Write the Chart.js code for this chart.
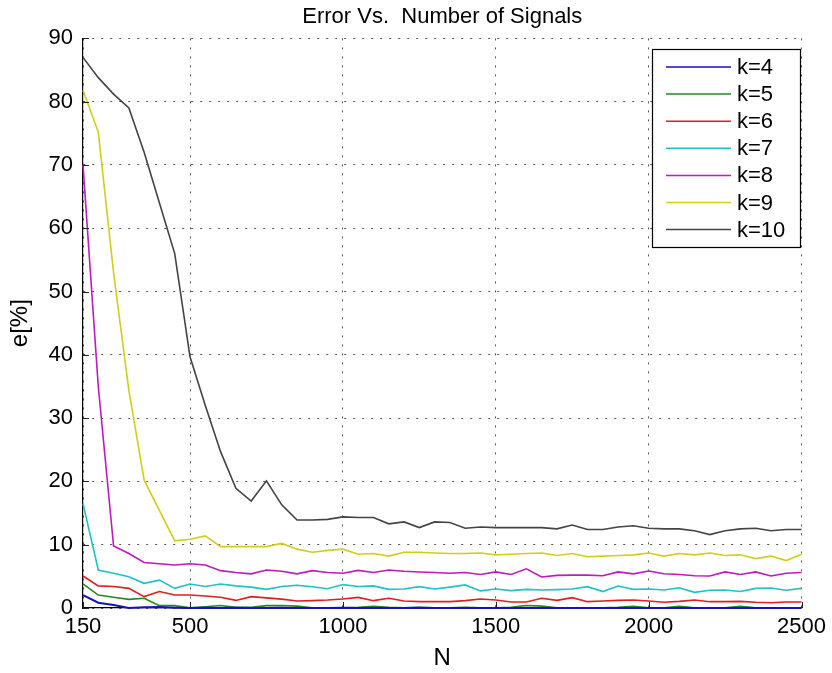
<!DOCTYPE html>
<html>
<head>
<meta charset="utf-8">
<title>Error Vs. Number of Signals</title>
<script src="https://cdn.jsdelivr.net/npm/chart.js@4.4.0/dist/chart.umd.min.js"></script>
<style>
	html, body { margin: 0; padding: 0; background: #fff; }
	#wrap { width: 832px; height: 673px; }
</style>
</head>
<body>
<div id="wrap"><canvas id="errChart" width="832" height="673"></canvas></div>
<script>
// N values (x axis)
const nValues = [150, 200, 250, 300, 350, 400, 450, 500, 550, 600, 650, 700, 750, 800, 850, 900,
	950, 1000, 1050, 1100, 1150, 1200, 1250, 1300, 1350, 1400, 1450, 1500, 1550, 1600, 1650, 1700,
	1750, 1800, 1850, 1900, 1950, 2000, 2050, 2100, 2150, 2200, 2250, 2300, 2350, 2400, 2450, 2500];

// error in percent, one array per k
const k4 = [2.05, 0.84, 0.47, 0.0, 0.1, 0.15, 0.05, 0.0, 0.05, 0.0, 0.05, 0.0, 0.0, 0.05, 0.0, 0.0,
	0.0, 0.05, 0.0, 0.0, 0.0, 0.0, 0.05, 0.0, 0.0, 0.0, 0.0, 0.0, 0.0, 0.0, 0.0, 0.0,
	0.0, 0.0, 0.0, 0.0, 0.0, 0.0, 0.0, 0.0, 0.0, 0.0, 0.0, 0.0, 0.0, 0.0, 0.0, 0.0];
const k5 = [3.8, 2.05, 1.7, 1.37, 1.53, 0.37, 0.37, 0.05, 0.2, 0.4, 0.1, 0.1, 0.37, 0.4, 0.3, 0.05,
	0.05, 0.05, 0.1, 0.25, 0.1, 0.05, 0.1, 0.05, 0.05, 0.1, 0.05, 0.05, 0.1, 0.4, 0.3, 0.05,
	0.05, 0.05, 0.05, 0.1, 0.25, 0.05, 0.05, 0.25, 0.05, 0.05, 0.05, 0.25, 0.05, 0.05, 0.05, 0.05];
const k6 = [5.05, 3.5, 3.4, 3.1, 1.8, 2.6, 2.05, 2.05, 1.9, 1.7, 1.2, 1.8, 1.6, 1.4, 1.1, 1.16,
	1.26, 1.42, 1.68, 1.16, 1.53, 1.1, 1.0, 1.0, 1.0, 1.16, 1.42, 1.26, 0.95, 0.95, 1.53, 1.2,
	1.63, 1.0, 1.1, 1.2, 1.26, 1.1, 0.9, 1.05, 1.26, 1.0, 1.0, 1.05, 0.9, 0.84, 0.95, 0.95];
const k7 = [16.5, 6.0, 5.5, 4.95, 3.9, 4.4, 3.1, 3.8, 3.4, 3.8, 3.5, 3.3, 2.95, 3.4, 3.6, 3.37,
	3.05, 3.7, 3.4, 3.5, 2.95, 3.0, 3.37, 3.0, 3.3, 3.65, 2.7, 3.0, 2.75, 2.95, 2.85, 2.9,
	3.0, 3.37, 2.6, 3.47, 2.95, 3.0, 2.85, 3.2, 2.47, 2.8, 2.85, 2.6, 3.1, 3.16, 2.8, 3.1];
const k8 = [70.0, 35.0, 9.8, 8.6, 7.2, 7.0, 6.8, 7.0, 6.8, 5.9, 5.6, 5.4, 6.0, 5.8, 5.4, 5.9,
	5.6, 5.5, 5.95, 5.6, 6.0, 5.8, 5.7, 5.6, 5.5, 5.6, 5.3, 5.7, 5.3, 6.2, 4.9, 5.15,
	5.2, 5.2, 5.1, 5.7, 5.4, 5.85, 5.4, 5.3, 5.1, 5.05, 5.7, 5.3, 5.7, 5.05, 5.5, 5.6];
const k9 = [81.8, 75.2, 53.0, 34.4, 20.2, 15.4, 10.6, 10.85, 11.4, 9.7, 9.7, 9.7, 9.7, 10.2, 9.3, 8.8,
	9.1, 9.3, 8.5, 8.6, 8.2, 8.8, 8.8, 8.7, 8.6, 8.6, 8.7, 8.4, 8.5, 8.6, 8.7, 8.3,
	8.6, 8.1, 8.2, 8.3, 8.4, 8.7, 8.2, 8.6, 8.4, 8.7, 8.3, 8.4, 7.8, 8.2, 7.5, 8.5];
const k10 = [87.0, 83.8, 81.2, 79.0, 72.0, 64.0, 56.0, 39.7, 32.0, 24.7, 18.9, 16.9, 20.1, 16.3, 13.9, 13.9,
	14.0, 14.4, 14.3, 14.3, 13.3, 13.6, 12.7, 13.6, 13.5, 12.6, 12.8, 12.7, 12.7, 12.7, 12.7, 12.5,
	13.1, 12.4, 12.4, 12.8, 13.0, 12.6, 12.5, 12.5, 12.2, 11.6, 12.2, 12.5, 12.6, 12.2, 12.4, 12.4];

const seriesLabels = ["k=4", "k=5", "k=6", "k=7", "k=8", "k=9", "k=10"];
const xTickValues = [150, 500, 1000, 1500, 2000, 2500];

const seriesColors = ["#1414b4", "#1f8a1f", "#e01e1e", "#1ec3c3", "#c019c0", "#cfcf1a", "#444444"];
const FONT = "'Liberation Sans', Arial, sans-serif";

function toPoints(vals) {
	return vals.map(function (v, i) { return { x: nValues[i], y: v }; });
}

// inward tick marks like the original plot
const innerTicks = {
	id: "innerTicks",
	afterDraw(chart) {
		const ctx = chart.ctx;
		const area = chart.chartArea;
		const xs = chart.scales.x;
		const ys = chart.scales.y;
		ctx.save();
		ctx.strokeStyle = "#222";
		ctx.lineWidth = 1;
		ctx.beginPath();
		xs.ticks.forEach(function (t) {
			const px = Math.round(xs.getPixelForValue(t.value)) + 0.5;
			ctx.moveTo(px, area.bottom);
			ctx.lineTo(px, area.bottom - 6);
		});
		ys.ticks.forEach(function (t) {
			const py = Math.round(ys.getPixelForValue(t.value)) + 0.5;
			ctx.moveTo(area.left, py);
			ctx.lineTo(area.left + 6, py);
		});
		ctx.stroke();
		ctx.restore();
	}
};

// boxed legend in the top right corner of the axes
const boxLegend = {
	id: "boxLegend",
	afterDraw(chart) {
		const ctx = chart.ctx;
		const left = 652, top = 49, width = 148, height = 198;
		const rowH = 27.1;
		ctx.save();
		ctx.fillStyle = "#fff";
		ctx.fillRect(left, top, width, height);
		ctx.strokeStyle = "#000";
		ctx.lineWidth = 1.2;
		ctx.strokeRect(left + 0.5, top + 0.5, width, height);
		ctx.font = "22px " + FONT;
		ctx.textBaseline = "middle";
		ctx.fillStyle = "#000";
		chart.data.datasets.forEach(function (ds, i) {
			const y = top + 18 + i * rowH;
			ctx.strokeStyle = ds.borderColor;
			ctx.lineWidth = 1.5;
			ctx.beginPath();
			ctx.moveTo(666, y);
			ctx.lineTo(731, y);
			ctx.stroke();
			ctx.fillText(ds.label, 737, y + 1);
		});
		ctx.restore();
	}
};

const datasets = [k4, k5, k6, k7, k8, k9, k10].map(function (vals, i) {
	return {
		label: seriesLabels[i],
		data: toPoints(vals),
		borderColor: seriesColors[i],
		backgroundColor: seriesColors[i],
		borderWidth: i === 0 ? 2 : 1.6,
		pointRadius: 0,
		tension: 0,
		fill: false,
		clip: false
	};
});

new Chart(document.getElementById("errChart").getContext("2d"), {
	type: "line",
	data: { datasets: datasets },
	options: {
		responsive: false,
		animation: false,
		devicePixelRatio: 1,
		layout: { padding: { left: 0, right: 26, top: 0, bottom: 0 } },
		plugins: {
			legend: { display: false },
			tooltip: { enabled: false },
			title: {
				display: true,
				fullSize: false,
				text: "Error Vs.  Number of Signals",
				color: "#000",
				font: { family: FONT, size: 22, weight: "normal" },
				padding: { top: 4, bottom: 8 }
			}
		},
		scales: {
			x: {
				type: "linear",
				min: 150,
				max: 2500,
				afterBuildTicks: function (scale) {
					scale.ticks = xTickValues.map(function (v) { return { value: v }; });
				},
				afterFit: function (scale) { scale.height = 65; },
				ticks: {
					color: "#000",
					font: { family: FONT, size: 22 },
					padding: 6,
					maxRotation: 0,
					autoSkip: false,
					callback: function (v) { return String(v); }
				},
				grid: { color: "#555", lineWidth: 1, drawTicks: false },
				border: { display: true, color: "#000", width: 1.2, dash: [2, 7] },
				title: {
					display: true,
					text: "N",
					color: "#000",
					font: { family: FONT, size: 24 },
					padding: { top: 0, bottom: 0 }
				}
			},
			y: {
				min: 0,
				max: 90,
				afterFit: function (scale) { scale.width = 83; },
				ticks: {
					stepSize: 10,
					color: "#000",
					font: { family: FONT, size: 22 },
					padding: 10
				},
				grid: { color: "#555", lineWidth: 1, drawTicks: false },
				border: { display: true, color: "#000", width: 1.2, dash: [2, 7] },
				title: {
					display: true,
					text: "e[%]",
					color: "#000",
					font: { family: FONT, size: 24 },
					padding: { top: 6, bottom: 0 }
				}
			}
		}
	},
	plugins: [innerTicks, boxLegend]
});
</script>
</body>
</html>
